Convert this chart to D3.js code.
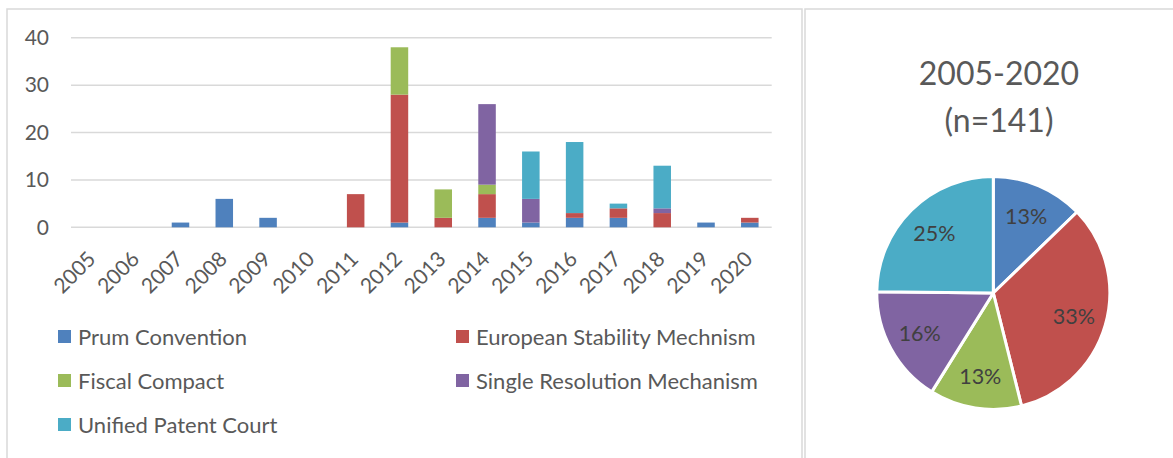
<!DOCTYPE html>
<html>
<head>
<meta charset="utf-8">
<script src="https://cdn.jsdelivr.net/npm/d3@7"></script>
<style>
  html, body { margin: 0; padding: 0; background: #ffffff; }
  svg { display: block; font-family: Lato, "Noto Sans", sans-serif; }
</style>
</head>
<body>
<svg id="chart" width="1173" height="458"></svg>
<script>
// Yearly counts per agreement (stacked bars)
const years = ["2005","2006","2007","2008","2009","2010","2011","2012","2013","2014","2015","2016","2017","2018","2019","2020"];
const seriesNames = ["Prum Convention", "European Stability Mechnism", "Fiscal Compact", "Single Resolution Mechanism", "Unified Patent Court"];
const prum    = [0, 0, 1, 6, 2, 0, 0, 1, 0, 2, 1, 2, 2, 0, 1, 1];
const esm     = [0, 0, 0, 0, 0, 0, 7, 27, 2, 5, 0, 1, 2, 3, 0, 1];
const fiscal  = [0, 0, 0, 0, 0, 0, 0, 10, 6, 2, 0, 0, 0, 0, 0, 0];
const srm     = [0, 0, 0, 0, 0, 0, 0, 0, 0, 17, 5, 0, 0, 1, 0, 0];
const upc     = [0, 0, 0, 0, 0, 0, 0, 0, 0, 0, 10, 15, 1, 9, 0, 0];
const yTicks  = [0, 10, 20, 30, 40];

// Totals for the 2005-2020 pie
const pieTotals = [18, 47, 18, 23, 35];
const pieTitle  = ["2005-2020", "(n=141)"];

const colors = ["#4F81BD", "#C0504D", "#9BBB59", "#8064A2", "#4BACC6"];
const textGray = "#595959";
const gridGray = "#d9d9d9";

const svg = d3.select("#chart");

// Panel frames
svg.append("rect").attr("x", 7).attr("y", 9).attr("width", 795).attr("height", 470)
  .attr("fill", "none").attr("stroke", gridGray).attr("stroke-width", 1.5);
svg.append("rect").attr("x", 805).attr("y", 9).attr("width", 400).attr("height", 470)
  .attr("fill", "none").attr("stroke", gridGray).attr("stroke-width", 1.5);

// ---------- stacked bar chart ----------
const plot = { left: 71, right: 771.7, top: 37.8, bottom: 227.3 };

const x = d3.scaleBand().domain(years).range([plot.left, plot.right])
  .paddingInner(0.6).paddingOuter(0.3);
const y = d3.scaleLinear().domain([0, 40]).range([plot.bottom, plot.top]);

// gridlines
svg.append("g")
  .selectAll("line").data(yTicks).join("line")
  .attr("x1", plot.left).attr("x2", plot.right)
  .attr("y1", d => y(d)).attr("y2", d => y(d))
  .attr("stroke", gridGray).attr("stroke-width", 1.5);

// y axis labels
const yAxis = svg.append("g").attr("transform", `translate(${plot.left - 22},0)`)
  .call(d3.axisLeft(y).tickValues(yTicks).tickSize(0).tickPadding(0));
yAxis.select(".domain").remove();
yAxis.selectAll("text").attr("fill", textGray).style("font-size", "21px")
  .style("font-family", "Lato, sans-serif");

// stacked data
const rows = years.map((yr, i) => ({
  year: yr,
  s0: prum[i], s1: esm[i], s2: fiscal[i], s3: srm[i], s4: upc[i]
}));
const stack = d3.stack().keys(["s0", "s1", "s2", "s3", "s4"]);
const stacked = stack(rows);

svg.append("g").selectAll("g").data(stacked).join("g")
  .attr("fill", (d, i) => colors[i])
  .selectAll("rect").data(d => d.filter(p => p[1] - p[0] > 0)).join("rect")
  .attr("x", d => x(d.data.year))
  .attr("width", x.bandwidth())
  .attr("y", d => y(d[1]))
  .attr("height", d => y(d[0]) - y(d[1]));

// x axis labels (rotated)
const xAxis = svg.append("g").attr("transform", `translate(0,${plot.bottom})`)
  .call(d3.axisBottom(x).tickSize(0));
xAxis.select(".domain").remove();
xAxis.selectAll("text")
  .attr("fill", textGray).style("font-size", "21px").style("font-family", "Lato, sans-serif")
  .attr("x", 0).attr("y", 0).attr("dy", 0)
  .attr("text-anchor", "end")
  .attr("transform", "translate(4,33) rotate(-45)");

// legend
const legendPos = [
  { x: 58, y: 337 }, { x: 456, y: 337 },
  { x: 58, y: 381 }, { x: 456, y: 381 },
  { x: 58, y: 425 }
];
const legend = svg.append("g").selectAll("g").data(seriesNames).join("g")
  .attr("transform", (d, i) => `translate(${legendPos[i].x},${legendPos[i].y})`);
legend.append("rect").attr("x", 0).attr("y", -7).attr("width", 13).attr("height", 13)
  .attr("fill", (d, i) => colors[i]);
legend.append("text").attr("x", 20).attr("y", 7.5)
  .attr("fill", textGray).style("font-size", "22px").text(d => d);

// ---------- pie ----------
const cx = 993.3, cy = 293, r = 116.5;
const total = d3.sum(pieTotals);
const pie = d3.pie().sort(null).value(d => d);
const arcs = pie(pieTotals);
const arc = d3.arc().innerRadius(0).outerRadius(r);
const labelArc = d3.arc().innerRadius(r * 0.72).outerRadius(r * 0.72);
const pct = d3.format(".0%");

const pg = svg.append("g").attr("transform", `translate(${cx},${cy})`);
pg.selectAll("path").data(arcs).join("path")
  .attr("d", arc).attr("fill", (d, i) => colors[i])
  .attr("stroke", "#ffffff").attr("stroke-width", 3).attr("stroke-linejoin", "round");
pg.selectAll("text").data(arcs).join("text")
  .attr("transform", d => `translate(${labelArc.centroid(d)})`)
  .attr("text-anchor", "middle").attr("dy", "0.36em")
  .attr("fill", "#404040").style("font-size", "21.5px")
  .text(d => pct(d.value / total));

// pie title
svg.append("g").selectAll("text").data(pieTitle).join("text")
  .attr("x", 999).attr("y", (d, i) => 85 + i * 46.5)
  .attr("text-anchor", "middle").attr("fill", textGray)
  .style("font-size", "32px").text(d => d);
</script>
</body>
</html>
